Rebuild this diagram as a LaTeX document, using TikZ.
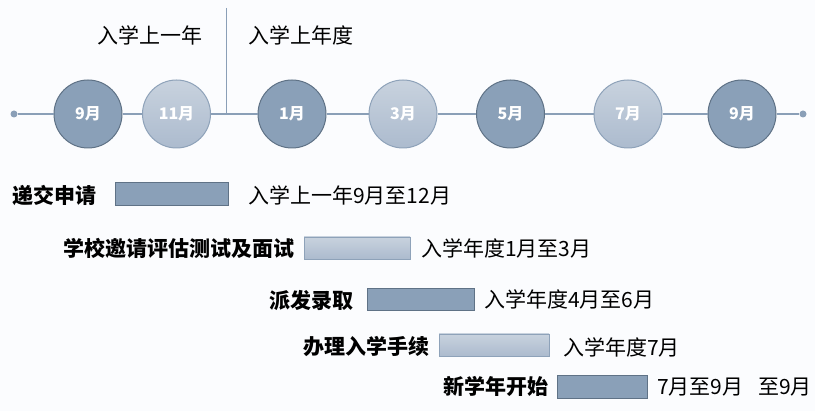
\documentclass[tikz,border=0pt]{standalone}
\usepackage{fontspec}
\setmainfont{Noto Sans CJK SC}
\definecolor{cbg}{HTML}{FBFCFE}
\definecolor{cdark}{HTML}{8AA0B8}
\definecolor{cdarkb}{HTML}{5F7286}
\definecolor{clt}{HTML}{C8D2DE}
\definecolor{clb}{HTML}{ACBBCE}
\definecolor{clightb}{HTML}{8EA2B9}
\definecolor{cline}{HTML}{8A9FB7}
\begin{document}
\begin{tikzpicture}[x=1pt,y=-1pt,
  dark/.style={circle,draw=cdarkb,fill=cdark,line width=1pt,minimum size=68pt,inner sep=0pt,text=white,font=\fontsize{16}{16}\selectfont\bfseries},
  light/.style={circle,draw=clightb,top color=clt,bottom color=clb,line width=1pt,minimum size=68pt,inner sep=0pt,text=white,font=\fontsize{16}{16}\selectfont\bfseries},
  dot/.style={circle,fill=cline,minimum size=7pt,inner sep=0pt},
  tline/.style={draw=cline,line width=2.5pt},
  vline/.style={draw=cline,line width=1pt},
  txt/.style={inner sep=0pt,anchor=west,yshift=-3.5pt,text height=0.83em,text depth=0.07em,font=\fontsize{21}{21}\selectfont},
  btxt/.style={txt,font=\fontsize{21}{21}\selectfont\bfseries},
  dbar/.style={draw=cdarkb,fill=cdark,line width=0.8pt,inner sep=0pt},
  lbar/.style={draw=clightb,top color=clt,bottom color=clb,line width=0.8pt,inner sep=0pt}
]
\useasboundingbox (0,0) rectangle (815,411);
\fill[cbg] (0,0) rectangle (815,411);
% timeline
\node[dot] (ld) at (14,114) {};
\node[dot] (rd) at (803,114) {};
\node[dark]  (c1) at (88,114) {9月};
\node[light] (c2) at (176.5,114) {11月};
\node[dark]  (c3) at (292,114) {1月};
\node[light] (c4) at (403,114) {3月};
\node[dark]  (c5) at (510.5,114) {5月};
\node[light] (c6) at (628,114) {7月};
\node[dark]  (c7) at (742,114) {9月};
\coordinate (vt) at (226,8);
\coordinate (vb) at (226,114);
\path[tline] (ld) -- (c1) (c1) -- (c2) (c2) -- (c3) (c3) -- (c4) (c4) -- (c5) (c5) -- (c6) (c6) -- (c7) (c7) -- (rd);
\path[vline] (vt) -- (vb);
% headers
\node[txt] (h1) at (97,36) {入学上一年};
\node[txt] (h2) at (248,36) {入学上年度};
% rows
\node[btxt] (l1) at (12,196) {递交申请};
\node[dbar,minimum width=113pt,minimum height=23pt] (b1) at (171.5,193.5) {};
\node[txt] (t1) at (248,196) {入学上一年9月至12月};

\node[btxt] (l2) at (63,249.5) {学校邀请评估测试及面试};
\node[lbar,minimum width=106pt,minimum height=22pt] (b2) at (357,248) {};
\node[txt] (t2) at (421,249) {入学年度1月至3月};

\node[btxt] (l3) at (269,301) {派发录取};
\node[dbar,minimum width=107pt,minimum height=22pt] (b3) at (420.5,299) {};
\node[txt] (t3) at (484,300) {入学年度4月至6月};

\node[btxt] (l4) at (303,347) {办理入学手续};
\node[lbar,minimum width=110pt,minimum height=22pt] (b4) at (494,345) {};
\node[txt] (t4) at (563,348) {入学年度7月};

\node[btxt] (l5) at (443,387) {新学年开始};
\node[dbar,minimum width=90pt,minimum height=23pt] (b5) at (602,386.5) {};
\node[txt] (t5) at (657,387) {7月至9月\hspace{0.7em}至9月};
\end{tikzpicture}
\end{document}
